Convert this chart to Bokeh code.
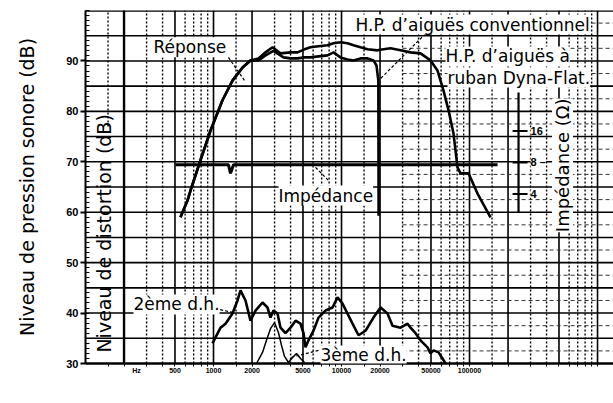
from bokeh.plotting import figure
from bokeh.models import Range1d, LogScale, FixedTicker, Label, Span
from bokeh.embed import file_html
from bokeh.resources import INLINE

# ---------------- data ----------------
ribbon_freq = [552, 626, 661, 791, 948, 1175, 1407, 1686, 1945, 2248,
               2548, 2890, 3338, 3997, 4532, 5141, 5728, 6611, 7777, 8660,
               9821, 11140, 12410, 14070, 15970, 19100, 21280, 24150, 28900, 34600,
               41400, 49560, 56230, 62650, 68550, 74990, 80560, 85060, 98210, 115500,
               145900]
ribbon_db = [59.0, 62.3, 64.3, 70.3, 76.2, 82.2, 86.1, 88.7, 90.1, 90.5,
             91.7, 92.7, 91.5, 91.7, 91.7, 92.3, 92.7, 92.9, 93.1, 93.5,
             93.7, 93.5, 93.1, 92.7, 92.3, 92.1, 92.3, 92.5, 92.1, 91.7,
             91.5, 90.1, 88.1, 84.1, 80.2, 75.6, 68.9, 67.7, 67.7, 63.7,
             59.0]

conv_freq = [552, 626, 661, 791, 948, 1175, 1407, 1686, 1945, 2248,
             2548, 2943, 3523, 3997, 4532, 5141, 5728, 6611, 7777, 8660,
             9821, 11140, 12410, 14070, 15970, 17780, 18760, 19400, 19500]
conv_db = [59.0, 62.3, 64.3, 70.3, 76.2, 82.2, 86.1, 88.7, 90.1, 90.1,
           91.1, 92.0, 90.7, 90.5, 90.5, 90.7, 90.7, 90.9, 91.1, 91.7,
           90.7, 90.3, 90.1, 90.5, 90.5, 90.1, 89.1, 86.1, 59.3]

imp_freq = [505, 1309, 1358, 1433, 165600]
imp_ohm = [7.6, 7.6, 6.3, 7.6, 7.6]

h2_freq = [982, 1135, 1241, 1407, 1540, 1625, 1778, 1945, 2129, 2415,
           2642, 2787, 2943, 3162, 3338, 3652, 3997, 4373, 4783, 5049,
           5233, 5524, 6042, 6611, 7499, 8511, 9306, 10180, 11140, 12190,
           13580, 15400, 17780, 20180, 22870, 25020, 28900, 32800, 34600, 37850,
           41400, 46980, 49560, 52360, 57250, 61500, 64940]
h2_db = [34.0, 37.1, 37.9, 39.9, 42.5, 44.5, 42.5, 38.5, 40.5, 42.1,
         41.1, 39.1, 40.5, 39.9, 37.1, 36.0, 37.1, 38.5, 37.9, 36.0,
         33.2, 34.6, 36.5, 39.1, 40.5, 41.1, 43.1, 41.9, 39.9, 37.9,
         35.6, 36.5, 39.1, 41.1, 39.9, 37.5, 37.1, 37.9, 37.1, 36.0,
         34.6, 33.2, 32.0, 32.6, 32.2, 31.0, 30.0]

h3_freq = [2167, 2415, 2594, 2787, 2998, 3219, 3398, 3589, 3855, 4142, 4451, 4783, 5141]
h3_db = [30.0, 32.2, 34.6, 36.9, 38.1, 36.1, 33.6, 31.4, 30.2, 31.2, 32.0, 31.0, 30.2]

db_ticks = [30, 40, 50, 60, 70, 80, 90]
freq_ticks = [250, 500, 1000, 2000, 5000, 10000, 20000, 50000, 100000]
freq_tick_labels = ["Hz", "500", "1000", "2000", "5000", "10000", "20000", "50000", "100000"]
imp_ticks = [4, 8, 16]
imp_tick_labels = ["4", "8 \u2013", "16"]

FONT = "DejaVu Sans"
F_MIN, F_MAX = 100, 1.333e6
DB_MIN, DB_MAX = 30, 100

p = figure(width=613, height=403, x_axis_type="log",
           x_range=Range1d(F_MIN, F_MAX), y_range=Range1d(DB_MIN, DB_MAX),
           output_backend="svg", toolbar_location=None,
           min_border_left=85, min_border_right=0, min_border_top=10, min_border_bottom=40,
           background_fill_color="white", border_fill_color="white")
p.outline_line_color = None
p.grid.visible = False
p.extra_y_ranges = {"imp": Range1d(0.0958, 226.8)}
p.extra_y_scales = {"imp": LogScale()}

# ---------------- chart-paper grid ----------------
mults = [1, 1.5, 2, 3, 4, 5, 6, 7, 8, 9]
solid_x, dotted_x = [], []
for dec in [100, 1000, 10000, 100000, 1000000]:
    for m in mults:
        f = dec * m
        if f <= F_MIN or f >= F_MAX:
            continue
        (solid_x if m in (1, 2, 5) else dotted_x).append(f)

top_dotted = [f for f in dotted_x if f != 150]
p.segment(x0=solid_x, y0=DB_MIN, x1=solid_x, y1=DB_MAX, line_width=1.6, line_color="black")
p.segment(x0=top_dotted, y0=DB_MIN, x1=top_dotted, y1=DB_MAX, line_width=1.4,
          line_color="black", line_dash="2 2")
p.segment(x0=[150], y0=[77], x1=[150], y1=[DB_MAX], line_width=1.4,
          line_color="black", line_dash="2 2")
p.segment(x0=[200], y0=[DB_MIN], x1=[200], y1=[DB_MAX], line_width=2.4, line_color="black")

hl = list(range(35, 100, 5))
p.segment(x0=F_MIN, y0=hl, x1=F_MAX, y1=hl, line_width=1.6, line_color="black")

# finer dashed rulings on the right-hand part of the paper
hl_fine = [v + 2.5 for v in range(30, 100, 5)]
p.segment(x0=30000, y0=hl_fine, x1=F_MAX, y1=hl_fine, line_width=1.0,
          line_color="#333333", line_dash="4 3")

p.add_layout(Span(location=DB_MAX, dimension="width", line_width=2.5, line_color="black"))

# ---------------- curves ----------------
p.line(conv_freq, conv_db, line_width=2.6, line_color="black")
p.line(ribbon_freq, ribbon_db, line_width=2.6, line_color="black")
p.line(imp_freq, imp_ohm, line_width=3, line_color="black", y_range_name="imp")
p.line(h2_freq, h2_db, line_width=2.6, line_color="black")
p.line(h3_freq, h3_db, line_width=1.5, line_color="black")

# impedance scale drawn inside the chart
p.segment(x0=[2.415e5], y0=[2.67], x1=[2.415e5], y1=[37.3], line_width=2.2,
          line_color="black", y_range_name="imp")
p.segment(x0=2.17e5, y0=imp_ticks, x1=2.84e5, y1=imp_ticks, line_width=2,
          line_color="black", y_range_name="imp")

# leader lines
lead_x0 = [1309, 45300, 6264, 866, 6611]
lead_y0 = [90.7, 95.4, 68.9, 41.3, 32.6]
lead_x1 = [1747, 20180, 7910, 1433, 3997]
lead_y1 = [86.1, 86.5, 66.3, 40.1, 31.2]
p.segment(x0=lead_x0, y0=lead_y0, x1=lead_x1, y1=lead_y1, line_width=1.2,
          line_color="black", line_dash="3 2")

# ---------------- axes ----------------
yax = p.yaxis[0]
yax.ticker = FixedTicker(ticks=db_ticks, minor_ticks=list(range(30, 101)))
yax.major_label_text_font = "Liberation Sans"
yax.major_label_text_font_style = "bold"
yax.major_label_text_font_size = "11px"
yax.major_label_text_color = "black"
yax.major_tick_out = 5
yax.major_tick_in = 0
yax.minor_tick_in = 4
yax.minor_tick_out = 0
yax.axis_line_width = 2
yax.major_tick_line_width = 2
yax.major_label_standoff = 2
yax.axis_label = "Niveau de pression sonore (dB)"
yax.axis_label_text_font = FONT
yax.axis_label_text_font_size = "19px"
yax.axis_label_text_font_style = "normal"
yax.axis_label_text_color = "black"
yax.axis_label_standoff = 25

xax = p.xaxis[0]
xax.ticker = FixedTicker(ticks=freq_ticks, minor_ticks=solid_x + dotted_x)
xax.major_label_overrides = {f: l for f, l in zip(freq_ticks, freq_tick_labels)}
xax.major_label_text_font = "Liberation Sans"
xax.major_label_text_font_style = "bold"
xax.major_label_text_font_size = "7px"
xax.major_label_text_color = "black"
xax.major_tick_out = 0
xax.major_tick_in = 0
xax.minor_tick_out = 3
xax.minor_tick_in = 0
xax.axis_line_width = 2.5
xax.major_label_standoff = 0

# ---------------- texts ----------------
def lab(x, y, text, size="17px", align="left", angle=0.0, bg=True, yr="default",
        font=FONT, style="normal"):
    kw = dict(x=x, y=y, text=text, text_font=font, text_font_size=size,
              text_font_style=style, text_align=align, text_baseline="middle",
              angle=angle, text_color="black", y_range_name=yr)
    if bg:
        kw["background_fill_color"] = "white"
    p.add_layout(Label(**kw))

for z, t in zip(imp_ticks, imp_tick_labels):
    lab(3.0e5, z, t, size="11px", yr="imp", font="Liberation Sans", style="bold")

lab(340, 92.7, "Réponse")
lab(12860, 97.2, "H.P. d\u2019aiguës conventionnel")
lab(64940, 90.9, "H.P. d\u2019aiguës à")
lab(67300, 86.7, "ruban Dyna-Flat.")
lab(3219, 63.3, "Impédance")
lab(237, 41.7, "2ème d.h.")
lab(6855, 31.6, "3ème d.h.")
lab(533000, 69.3, "Impédance (\u03a9)", size="18px", align="center", angle=1.5708)
lab(140.7, 55.8, "Niveau de distortion (dB)", size="19px", align="center", angle=1.5708, bg=False)
lab(9480, 24.0, "Fréquence (Hz)", size="18px", align="center", bg=False)
lab(131, 25.2, "1", size="13px", align="center", bg=False, font="Liberation Sans")

open("out.html", "w").write(file_html(p, INLINE))
